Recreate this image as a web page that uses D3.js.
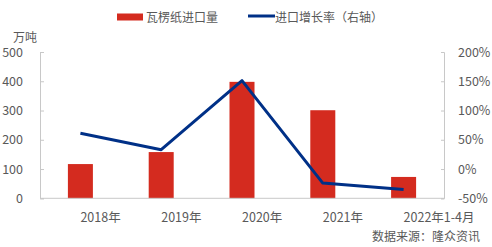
<!DOCTYPE html>
<html><head><meta charset="utf-8">
<script src="https://cdn.jsdelivr.net/npm/d3@7"></script>
<style>body{margin:0;background:#fff}svg{display:block}text{font-family:"Noto Sans CJK SC","Noto Sans",sans-serif;}</style>
</head><body>
<svg id="c" width="492" height="247"></svg>
<script>
const categories = ["2018年","2019年","2020年","2021年","2022年1-4月"];
const volume = [117, 158, 398, 301, 73];
const growth = [61, 33, 151, -24, -35];
const leftTicks = [0,100,200,300,400,500];
const rightTicks = [-50,0,50,100,150,200];
const seriesNames = ["瓦楞纸进口量","进口增长率（右轴）"];

const svg = d3.select("#c");
const W=492,H=247, x0=40, x1=444, yTop=52, yBot=198.3;
const txt="#595959", axc="#c8c8c8", barC="#d42b1f", lineC="#003087";

const x = d3.scaleBand().domain(categories).range([x0,x1]).paddingInner(0).paddingOuter(0);
const yL = d3.scaleLinear().domain([0,500]).range([yBot,yTop]);
const yR = d3.scaleLinear().domain([-50,200]).range([yBot,yTop]);

// bars
const bw = 25;
svg.append("g").selectAll("rect").data(categories).join("rect")
  .attr("x",d=>x(d)+x.bandwidth()/2-bw/2).attr("width",bw)
  .attr("y",(d,i)=>yL(volume[i])).attr("height",(d,i)=>yBot-yL(volume[i]))
  .attr("fill",barC);

// left axis
const gL = svg.append("g").attr("transform",`translate(${x0},0)`)
  .call(d3.axisLeft(yL).tickValues(leftTicks).tickSize(-4).tickPadding(17));
gL.select(".domain").attr("stroke",axc);
gL.selectAll(".tick line").attr("stroke",axc);
gL.selectAll("text").attr("fill",txt).attr("font-size",12.5);

// right axis
const gR = svg.append("g").attr("transform",`translate(${x1},0)`)
  .call(d3.axisRight(yR).tickValues(rightTicks).tickSize(-3).tickPadding(14).tickFormat(d=>d+"%"));
gR.select(".domain").attr("stroke",axc);
gR.selectAll(".tick line").attr("stroke",axc);
gR.selectAll("text").attr("fill",txt).attr("font-size",12.5);

// bottom axis
svg.append("line").attr("x1",x0).attr("x2",x1).attr("y1",yBot).attr("y2",yBot).attr("stroke",axc);
svg.append("g").selectAll("text").data(categories).join("text")
  .attr("x",d=>x(d)+x.bandwidth()/2).attr("y",221.5)
  .attr("text-anchor","start").attr("fill",txt).attr("font-size",12.5).text(d=>d);

// line
const line = d3.line().x((d,i)=>x(categories[i])+x.bandwidth()/2).y(d=>yR(d));
svg.append("path").datum(growth).attr("d",line).attr("fill","none")
  .attr("stroke",lineC).attr("stroke-width",3).attr("stroke-linejoin","round");

// unit
svg.append("text").attr("x",13).attr("y",42).attr("fill",txt).attr("font-size",12).text("万吨");

// legend
svg.append("rect").attr("x",117).attr("y",13.5).attr("width",26).attr("height",7).attr("fill",barC);
svg.append("text").attr("x",146).attr("y",21.5).attr("fill",txt).attr("font-size",12).text(seriesNames[0]);
svg.append("line").attr("x1",248).attr("x2",275).attr("y1",16).attr("y2",16).attr("stroke",lineC).attr("stroke-width",3);
svg.append("text").attr("x",275).attr("y",21.5).attr("fill",txt).attr("font-size",12).text(seriesNames[1]);

// source
svg.append("text").attr("x",480).attr("y",241).attr("text-anchor","end").attr("fill",txt).attr("font-size",12).text("数据来源：隆众资讯");
</script>
</body></html>
